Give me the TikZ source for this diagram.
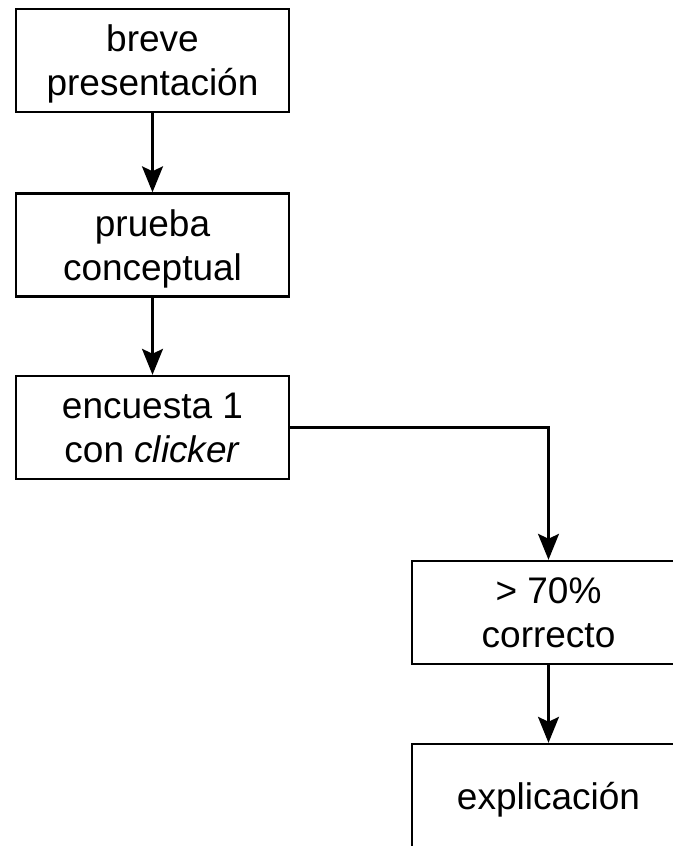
\documentclass[tikz,border=0pt]{standalone}
\usepackage{fontspec}
\setmainfont{Liberation Sans}
\usetikzlibrary{arrows.meta}
\begin{document}
\begin{tikzpicture}[x=1pt,y=1pt,
  box/.style={draw, line width=2.4pt, minimum width=273pt, minimum height=103pt,
    align=center, inner sep=0pt, text depth=0pt, font=\fontsize{37}{44}\selectfont},
  conn/.style={line width=2.4pt, -{Stealth[length=26pt,width=21pt,inset=5pt]}}]
\useasboundingbox (0,0) rectangle (672,-846);
\node[box] (b1) at (152.5,-60.5) {breve\\presentación};
\node[box] (b2) at (152.5,-245) {prueba\\conceptual};
\node[box] (b3) at (152.5,-427.5) {encuesta 1\\con \textit{clicker}};
\node[box] (b4) at (548.5,-612.5) {> 70\%\\correcto};
\node[box] (b5) at (548.5,-795.5) {explicación};
\draw[conn] (b1) -- (b2);
\draw[conn] (b2) -- (b3);
\draw[conn] (b3.east) -| (b4.north);
\draw[conn] (b4) -- (b5);
\end{tikzpicture}
\end{document}
